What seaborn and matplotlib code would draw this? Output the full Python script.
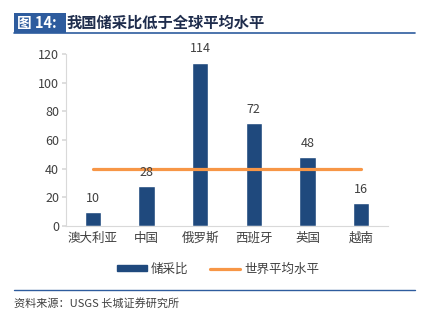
import matplotlib
matplotlib.use("Agg")
import matplotlib.pyplot as plt
import seaborn as sns
import pandas as pd
from matplotlib.patches import Rectangle, Patch
from matplotlib.lines import Line2D

countries = ["澳大利亚", "中国", "俄罗斯", "西班牙", "英国", "越南"]
reserve_ratio = [10, 28, 114, 72, 48, 16]
world_avg = [40, 40, 40, 40, 40, 40]
yticks = [0, 20, 40, 60, 80, 100, 120]

sns.set_theme(style="white")
plt.rcParams['font.family'] = ['Noto Sans CJK SC', 'DejaVu Sans']

BAR = "#1F497D"
ORANGE = "#F79646"
BLUE = "#2E5C9E"

fig = plt.figure(figsize=(4.26, 3.31), dpi=100)
ax = fig.add_axes([66/426, 1-226/331, 322/426, 172/331])

df = pd.DataFrame({"country": countries, "ratio": reserve_ratio, "avg": world_avg})
sns.barplot(data=df, x="country", y="ratio", color=BAR, width=0.3, ax=ax, saturation=1)
sns.lineplot(x=list(range(len(countries))), y=df["avg"], color=ORANGE, linewidth=2.3, ax=ax)

for i, v in enumerate(reserve_ratio):
    ax.text(i, v + 5, str(v), ha="center", va="bottom", fontsize=9, color="#404040")

ax.set_xlim(-0.5, len(countries) - 0.5)
ax.set_ylim(0, 120)
ax.set_yticks(yticks)
ax.set_yticklabels([str(t) for t in yticks], fontsize=9, color="#404040")
ax.set_xticks(range(len(countries)))
ax.set_xticklabels(countries, fontsize=9, color="#404040")
ax.set_xlabel("")
ax.set_ylabel("")
for s in ["top", "right"]:
    ax.spines[s].set_visible(False)
for s in ["left", "bottom"]:
    ax.spines[s].set_color("#D9D9D9")
    ax.spines[s].set_linewidth(0.8)
ax.tick_params(axis="y", which="both", left=True, length=3, color="#D9D9D9", pad=2)
ax.tick_params(axis="x", length=0, pad=4)

handles = [Patch(facecolor=BAR, edgecolor=BAR, label="储采比"),
           Line2D([0], [0], color=ORANGE, lw=2.3, label="世界平均水平")]
leg = fig.legend(handles=handles, loc="center", bbox_to_anchor=(218/426, 1-269/331), ncol=2,
                 frameon=False, fontsize=9, handlelength=2.4, handleheight=0.4,
                 columnspacing=1.8, handletextpad=0.3)
for t in leg.get_texts():
    t.set_color("#404040")

# header
fig.patches.append(Rectangle((14/426, 1-33/331), 52/426, 20/331, transform=fig.transFigure,
                             facecolor=BLUE, edgecolor="none"))
fig.text(17/426, 1-23/331, "图 14:", color="white", fontsize=10.5, fontweight="bold",
         va="center", ha="left")
fig.text(67/426, 1-23/331, "我国储采比低于全球平均水平", color="#1F2D4D", fontsize=11,
         fontweight="bold", va="center", ha="left")
fig.add_artist(Line2D([14/426, 415/426], [1-33/331, 1-33/331], transform=fig.transFigure,
                      color=BLUE, lw=1.2))
fig.add_artist(Line2D([14/426, 415/426], [1-290/331, 1-290/331], transform=fig.transFigure,
                      color=BLUE, lw=1.0))
fig.text(14/426, 1-303/331, "资料来源：USGS 长城证券研究所", color="#404040", fontsize=8,
         style="italic", va="center", ha="left")

fig.savefig("out.png", dpi=100)
